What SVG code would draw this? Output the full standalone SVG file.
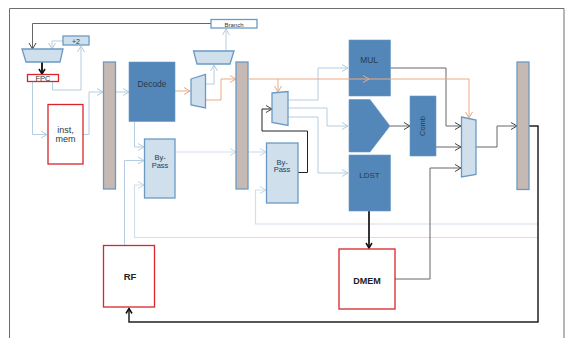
<svg xmlns="http://www.w3.org/2000/svg" width="566" height="338" viewBox="0 0 566 338">
<style>
text{font-family:"Liberation Sans",Arial,sans-serif;fill:#2a3a4a;text-anchor:middle}
.f{fill:none;stroke:#6e6e6e;stroke-width:1}
.lt{fill:#d0dfec;stroke:#6a9ac4;stroke-width:1.3}
.bl{fill:#5387b9;stroke:#6a9ac4;stroke-width:.6}
.la{fill:#c6b9b3;stroke:#6a9ac4;stroke-width:1.3}
.rd{fill:#fff;stroke:#d8262c;stroke-width:1.3}
.c{fill:none;stroke-width:1}
.a{stroke:#b4cde0}
.a2{stroke:#d3e0ea;stroke-width:1.2}
.o{stroke:#eba985}
.d{stroke:#666}
.k{stroke:#222}
.ma{marker-end:url(#ma)}
.mb{marker-end:url(#mb)}
.mo{marker-end:url(#mo)}
.md{marker-end:url(#md)}
.mk{marker-end:url(#mk)}
</style>
<defs>
<marker id="ma" markerUnits="userSpaceOnUse" markerWidth="10" markerHeight="10" refX="7" refY="5" orient="auto"><path d="M1 1.500L7 5L1 8.500" fill="none" stroke="#b4cde0"/></marker>
<marker id="mb" markerUnits="userSpaceOnUse" markerWidth="10" markerHeight="10" refX="7" refY="5" orient="auto"><path d="M1 1.500L7 5L1 8.500" fill="none" stroke="#c4d6e4"/></marker>
<marker id="mo" markerUnits="userSpaceOnUse" markerWidth="10" markerHeight="10" refX="7" refY="5" orient="auto"><path d="M1 1.500L7 5L1 8.500" fill="none" stroke="#eba985"/></marker>
<marker id="md" markerUnits="userSpaceOnUse" markerWidth="10" markerHeight="10" refX="7" refY="5" orient="auto"><path d="M1 1.500L7 5L1 8.500" fill="none" stroke="#444"/></marker>
<marker id="mk" markerUnits="userSpaceOnUse" markerWidth="10" markerHeight="10" refX="7" refY="5" orient="auto"><path d="M2 2L7 5L2 8" fill="none" stroke="#111" stroke-width="1.500"/></marker>
</defs>
<rect width="566" height="338" fill="#fff"/>
<path class="f" d="M9.500 338V8.500H564V338"/>
<g id="connectors">
<path class="c a ma" d="M63 41H52V49"/>
<path class="c a ma" d="M52.500 81V90H81V46"/>
<path class="c a ma" d="M32.500 81V134.500H47"/>
<path class="c a ma" d="M83 134.500H89V92H103"/>
<path class="c a ma" d="M115.500 92H129"/>
<path class="c o mo" d="M175 91H190"/>
<path class="c a ma" d="M206 84H214V65"/>
<path class="c o mo" d="M206 100H221V79H236"/>
<path class="c a ma" d="M226 51V29"/>
<path class="c a ma" d="M134.500 122V147H144"/>
<path class="c a ma" d="M124.500 245V160.500H144"/>
<path class="c a2 mb" d="M538 237.500H134.500V185H144"/>
<path class="c a2 mb" d="M538 224H255.500V190H266"/>
<path class="c a2 mb" d="M175 152H236"/>
<path class="c a2 mb" d="M248 152H266"/>
<path class="c a ma" d="M288 100H318V68H348"/>
<path class="c a ma" d="M288 108H327V126H348"/>
<path class="c a ma" d="M288 117H318V173H348"/>
<path class="c d md" d="M211 23.500H32.500V49"/>
<path class="c k md" d="M298 172.500H307.500V131H262V109H272"/>
<path class="c d md" d="M390 68H446V126H461"/>
<path class="c d md" d="M390 126H410"/>
<path class="c d md" d="M436 147H461"/>
<path class="c d md" d="M395 279H430V168H461"/>
<path class="c d md" d="M476 147H497V126H517"/>
<path class="c k mk" d="M529 126H538V322H129V308.500" style="stroke-width:1.500"/>
<path class="c k mk" d="M42 62V74" style="stroke-width:2"/>
<path class="c k mk" d="M369 211V248" style="stroke-width:2;stroke:#333"/>
</g>
<g id="pc-mux"><polygon class="lt" points="22,49 63,49 60,62 26,62"/></g>
<g id="plus2"><rect class="lt" x="63" y="36" width="26" height="9"/><text x="76" y="43.500" font-size="7">+2</text></g>
<g id="fpc"><rect class="rd" x="27.500" y="74.500" width="31" height="7"/><text x="43" y="81" font-size="7.500">FPC</text></g>
<g id="inst-mem"><rect class="rd" x="48" y="104.500" width="35" height="59.500"/><text x="65.500" y="133" font-size="9">inst,</text><text x="65.500" y="142" font-size="9">mem</text></g>
<g id="latch1"><rect class="la" x="103.500" y="62" width="12" height="127"/></g>
<g id="decode"><rect class="bl" x="129" y="62" width="46" height="59.500"/><text x="152" y="87" font-size="8.400">Decode</text></g>
<g id="bypass1"><rect class="lt" x="144.500" y="139" width="30.500" height="59"/><text x="160" y="160" font-size="7.500">By-</text><text x="160" y="167.500" font-size="7.500">Pass</text></g>
<g id="mux2"><polygon class="lt" points="191,79 205.500,74.500 205.500,108 191,105"/></g>
<g id="top-mux"><polygon class="lt" points="193.500,51 234,51 230,64 197,64"/></g>
<g id="branch"><rect fill="#fff" stroke="#6a9ac4" stroke-width="1.300" x="211" y="19.500" width="46" height="8.500"/><text x="234" y="26.500" font-size="6">Branch</text></g>
<g id="latch2"><rect class="la" x="236" y="62" width="12" height="127"/></g>
<g id="mux3"><polygon class="lt" points="272,93 288,91.500 288,125.500 272,122.500"/></g>
<g id="bypass2"><rect class="lt" x="266.500" y="143" width="31.500" height="60"/><text x="282" y="164.500" font-size="7.500">By-</text><text x="282" y="172" font-size="7.500">Pass</text></g>
<g id="mul"><rect class="bl" x="349" y="40" width="41.500" height="56"/><text x="369" y="63" font-size="8.400">MUL</text></g>
<g id="alu"><polygon class="bl" points="349,99.500 370,99.500 390,126 370,152 349,152"/></g>
<g id="ldst"><rect class="bl" x="349" y="155" width="41.500" height="56"/><text x="369.500" y="178" font-size="8">LDST</text></g>
<g id="comb"><rect class="bl" x="410" y="96" width="26" height="60"/><text transform="translate(424.500 126) rotate(-90)" font-size="7.500">Comb</text></g>
<g id="mux4"><polygon class="lt" points="461.500,117 476,120 476,174.500 461.500,177"/></g>
<g id="latch3"><rect class="la" x="517" y="62" width="12" height="127.500"/></g>
<g id="rf"><rect class="rd" x="103.500" y="245.500" width="51" height="61.500"/><text x="130" y="280" font-size="9.500" font-weight="bold" style="fill:#222">RF</text></g>
<g id="dmem"><rect class="rd" x="339" y="249" width="56" height="60"/><text x="367" y="283.500" font-size="9" font-weight="bold" style="fill:#222">DMEM</text></g>
<g id="connectors-over">
<path class="c o mo" d="M248 79H369"/>
<path class="c o mo" d="M369 79H469V118"/>
<path class="c o mo" d="M278 79V92"/>
</g>
</svg>
